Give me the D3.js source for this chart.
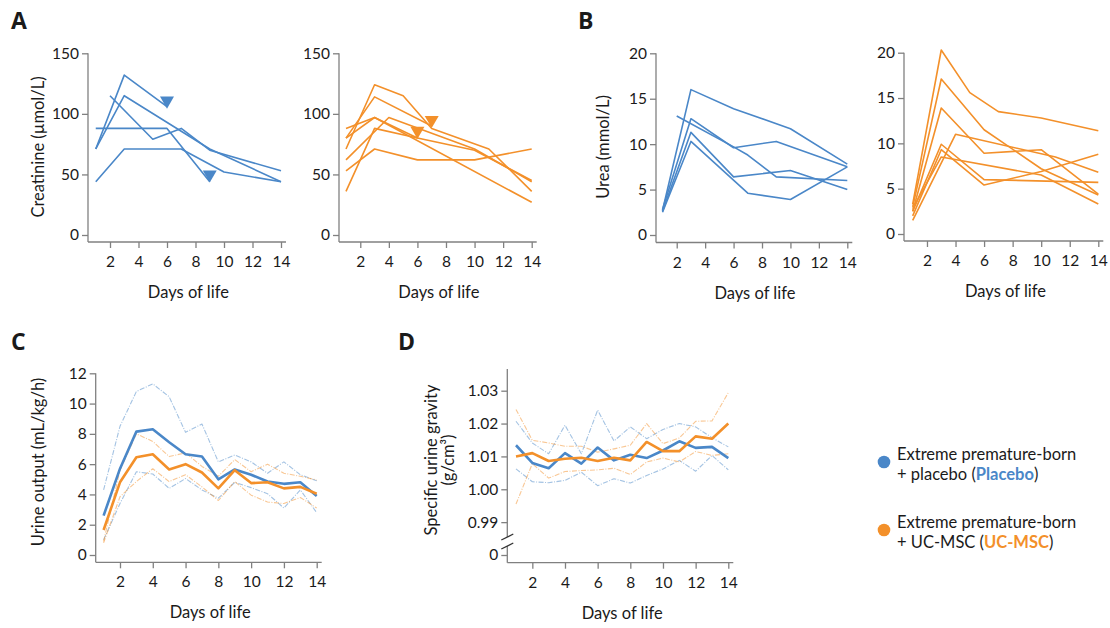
<!DOCTYPE html>
<html>
<head>
<meta charset="utf-8">
<script src="https://cdn.jsdelivr.net/npm/d3@7"></script>
<style>
  body { margin: 0; background: #fff; }
  text { font-family: Lato, "Open Sans", sans-serif; fill: #1a1a1a; }
</style>
</head>
<body>
<div id="chart"></div>
<script>
const BLUE = '#4a87c8';
const ORANGE = '#f3902a';
const AXIS = '#808080';

// Creatinine (µmol/L), one array per patient: [day, value]
const creatininePlacebo = [
    [[1, 71], [3, 132], [6, 106]],
    [[1, 71], [3, 115], [9, 71], [14, 44]],
    [[2, 115], [5, 79], [7, 88], [9, 70], [14, 53]],
    [[1, 88], [6, 88], [9, 44]],
    [[1, 44], [3, 71], [7, 71], [10, 52], [14, 44]]
];
const creatinineDeathsPlacebo = [[6, 111], [9, 50]];

const creatinineUC = [
    [[1, 71], [3, 124], [5, 115], [7, 88], [11, 71], [14, 36]],
    [[1, 80], [3, 114], [7, 90]],
    [[1, 88], [3, 97], [6, 80]],
    [[1, 62], [4, 97], [10, 71], [14, 44]],
    [[1, 36], [3, 88], [6, 80], [10, 70], [14, 45]],
    [[1, 53], [3, 71], [6, 62], [10, 62], [14, 71]],
    [[1, 80], [3, 97], [14, 27]]
];
const creatinineDeathsUC = [[6, 86], [7, 95]];

// Urea (mmol/L)
const ureaPlacebo = [
    [[1, 2.7], [3, 16], [6, 13.9], [10, 11.7], [14, 7.8]],
    [[2, 13.1], [6, 9.7], [7, 8.8], [9, 6.4], [14, 6.0]],
    [[1, 2.8], [3, 12.8], [6, 9.6], [9, 10.3], [14, 7.5]],
    [[1, 2.6], [3, 11.3], [6, 6.4], [10, 7.1], [14, 5.0]],
    [[1, 2.5], [3, 10.3], [7, 4.6], [10, 3.9], [14, 7.5]]
];
const ureaUC = [
    [[1, 3.3], [3, 20.3], [5, 15.6], [7, 13.5], [10, 12.8], [14, 11.4]],
    [[1, 3.0], [3, 17.1], [6, 11.5], [10, 7.2], [14, 4.3]],
    [[1, 2.5], [3, 13.9], [6, 8.9], [10, 9.3], [14, 4.4]],
    [[1, 1.5], [4, 11.0], [11, 8.5], [14, 6.8]],
    [[1, 2.5], [3, 9.9], [6, 6.0], [14, 5.7]],
    [[1, 2.0], [3, 9.3], [6, 5.4], [10, 6.9], [14, 8.8]],
    [[1, 2.8], [3, 8.5], [10, 6.5], [14, 3.3]]
];

// Urine output (mL/kg/h), days 1..14
const urineMeanPlacebo = [2.6, 5.7, 8.15, 8.3, 7.45, 6.65, 6.5, 5.0, 5.65, 5.3, 4.85, 4.7, 4.8, 3.9];
const urineHighPlacebo = [4.3, 8.5, 10.8, 11.3, 10.45, 8.1, 8.65, 6.15, 6.6, 6.15, 5.4, 6.15, 5.3, 4.9];
const urineLowPlacebo = [1.0, 3.4, 5.5, 5.35, 4.4, 5.05, 4.3, 3.75, 4.8, 4.45, 4.05, 3.1, 4.3, 2.8];
const urineMeanUC = [1.65, 4.8, 6.45, 6.65, 5.65, 6.0, 5.45, 4.4, 5.6, 4.75, 4.8, 4.4, 4.5, 4.05];
const urineHighUC = [0.9, 5.6, 8.0, 7.5, 6.5, 6.75, 5.85, 5.2, 6.3, 5.5, 6.0, 5.4, 5.2, 4.95];
const urineLowUC = [0.8, 3.85, 4.85, 5.7, 4.85, 5.3, 4.5, 3.6, 4.85, 3.95, 3.5, 3.4, 3.8, 3.1];

// Specific urine gravity (g/cm3), days 1..14
const gravityMeanPlacebo = [1.0134, 1.0080, 1.0064, 1.0110, 1.0078, 1.0127, 1.0088, 1.0105, 1.0095, 1.0118, 1.0146, 1.0126, 1.0129, 1.0095];
const gravityHighPlacebo = [1.0207, 1.0141, 1.0108, 1.0195, 1.0108, 1.0241, 1.0147, 1.0190, 1.0154, 1.0182, 1.0200, 1.0190, 1.0157, 1.0129];
const gravityLowPlacebo = [1.0062, 1.0023, 1.0020, 1.0027, 1.0052, 1.0011, 1.0032, 1.0019, 1.0042, 1.0062, 1.0088, 1.0055, 1.0103, 1.0059];
const gravityMeanUC = [1.0100, 1.0110, 1.0086, 1.0093, 1.0096, 1.0086, 1.0096, 1.0088, 1.0144, 1.0116, 1.0116, 1.0161, 1.0154, 1.0200];
const gravityHighUC = [1.0243, 1.0149, 1.0141, 1.0131, 1.0131, 1.0113, 1.0123, 1.0134, 1.0200, 1.0139, 1.0156, 1.0207, 1.0208, 1.0294];
const gravityLowUC = [0.9955, 1.0078, 1.0034, 1.0054, 1.0057, 1.0059, 1.0064, 1.0045, 1.0083, 1.0095, 1.0083, 1.0115, 1.0103, 1.0108];

const days = d3.range(1, 15);
const xTicks = [2, 4, 6, 8, 10, 12, 14];

const svg = d3.select('#chart')
    .append('svg')
    .attr('width', 1110)
    .attr('height', 628);

// Build one panel with its axes, returns scales
function makePanel(p) {
    const x = d3.scaleLinear().domain([1, 14]).range([p.d1, p.d14]);
    const y = d3.scaleLinear().domain(p.yDomain).range(p.yRange);
    const g = svg.append('g');

    const yAxis = d3.axisLeft(y)
        .tickValues(p.yTicks)
        .tickSize(6)
        .tickPadding(3)
        .tickFormat(p.yFormat || d3.format('d'));
    const ya = g.append('g')
        .attr('transform', `translate(${p.ax},0)`)
        .call(yAxis);

    const xAxis = d3.axisBottom(x)
        .tickValues(xTicks)
        .tickSize(6)
        .tickPadding(8);
    const xa = g.append('g')
        .attr('transform', `translate(0,${p.ay})`)
        .call(xAxis);

    [ya, xa].forEach(a => {
        a.select('.domain').remove();
        a.attr('font-family', null).attr('font-size', null);
        a.selectAll('line').attr('stroke', AXIS).attr('stroke-width', 1.3);
        a.selectAll('text').attr('font-size', 15.5).attr('fill', '#1a1a1a');
    });

    // axis lines
    if (p.breakAt) {
        g.append('line').attr('x1', p.ax).attr('x2', p.ax).attr('y1', p.axTop).attr('y2', p.breakAt[0])
            .attr('stroke', AXIS).attr('stroke-width', 1.3);
        g.append('line').attr('x1', p.ax).attr('x2', p.ax).attr('y1', p.breakAt[1]).attr('y2', p.ay)
            .attr('stroke', AXIS).attr('stroke-width', 1.3);
        p.breakAt.forEach(by => {
            g.append('line')
                .attr('x1', p.ax - 6).attr('y1', by + 3)
                .attr('x2', p.ax + 6).attr('y2', by - 3)
                .attr('stroke', '#333').attr('stroke-width', 1.3);
        });
    } else {
        g.append('line').attr('x1', p.ax).attr('x2', p.ax).attr('y1', p.axTop).attr('y2', p.ay)
            .attr('stroke', AXIS).attr('stroke-width', 1.3);
    }
    g.append('line').attr('x1', p.ax).attr('x2', p.d14 + 5).attr('y1', p.ay).attr('y2', p.ay)
        .attr('stroke', AXIS).attr('stroke-width', 1.3);

    g.append('text')
        .attr('x', (p.d1 + p.d14) / 2)
        .attr('y', p.ay + 56)
        .attr('text-anchor', 'middle')
        .attr('font-size', 16.5)
        .text('Days of life');

    if (p.yTitle) {
        const t = g.append('text')
            .attr('transform', `translate(${p.yTitleX},${p.yTitleY}) rotate(-90)`)
            .attr('text-anchor', 'middle')
            .attr('font-size', 16.5);
        p.yTitle.forEach((line, i) => {
            t.append('tspan')
                .attr('x', 0)
                .attr('dy', i === 0 ? 0 : 17)
                .text(line);
        });
    }
    return { x, y, g };
}

function drawPatients(panel, rows, color) {
    const line = d3.line().x(d => panel.x(d[0])).y(d => panel.y(d[1]));
    panel.g.selectAll(null)
        .data(rows)
        .enter()
        .append('path')
        .attr('d', line)
        .attr('fill', 'none')
        .attr('stroke', color)
        .attr('stroke-width', 1.6)
        .attr('stroke-linejoin', 'round');
}

function drawDeaths(panel, marks, color) {
    panel.g.selectAll(null)
        .data(marks)
        .enter()
        .append('path')
        .attr('d', d3.symbol(d3.symbolTriangle, 85))
        .attr('transform', d => `translate(${panel.x(d[0])},${panel.y(d[1])}) rotate(180)`)
        .attr('fill', color);
}

function drawSeries(panel, vals, color, thick) {
    const line = d3.line().x((d, i) => panel.x(days[i])).y(d => panel.y(d));
    const p = panel.g.append('path')
        .datum(vals)
        .attr('d', line)
        .attr('fill', 'none')
        .attr('stroke', color)
        .attr('stroke-linejoin', 'round');
    if (thick) {
        p.attr('stroke-width', 2.6);
    } else {
        p.attr('stroke-width', 1.1)
            .attr('stroke-opacity', 0.5)
            .attr('stroke-dasharray', '5,1.5,1,1.5');
    }
}

// Panel A
const aLeft = makePanel({
    ax: 88, axTop: 53.3, ay: 242, d1: 95.75, d14: 281,
    yDomain: [0, 150], yRange: [235, 53.3], yTicks: [0, 50, 100, 150],
    yTitle: ['Creatinine (\u00b5mol/L)'], yTitleX: 44, yTitleY: 147
});
drawPatients(aLeft, creatininePlacebo, BLUE);
drawDeaths(aLeft, creatinineDeathsPlacebo, BLUE);

const aRight = makePanel({
    ax: 339, axTop: 53.3, ay: 242, d1: 346, d14: 531.7,
    yDomain: [0, 150], yRange: [235, 53.3], yTicks: [0, 50, 100, 150]
});
drawPatients(aRight, creatinineUC, ORANGE);
drawDeaths(aRight, creatinineDeathsUC, ORANGE);

// Panel B
const bLeft = makePanel({
    ax: 656, axTop: 53.3, ay: 242.5, d1: 662.5, d14: 847.3,
    yDomain: [0, 20], yRange: [235, 53.3], yTicks: [0, 5, 10, 15, 20],
    yTitle: ['Urea (mmol/L)'], yTitleX: 609, yTitleY: 147
});
drawPatients(bLeft, ureaPlacebo, BLUE);

const bRight = makePanel({
    ax: 904, axTop: 52.7, ay: 241, d1: 912.7, d14: 1098.3,
    yDomain: [0, 20], yRange: [234, 52.7], yTicks: [0, 5, 10, 15, 20]
});
drawPatients(bRight, ureaUC, ORANGE);

// Panel C
const cPanel = makePanel({
    ax: 95.7, axTop: 373.3, ay: 562.3, d1: 103.6, d14: 316.7,
    yDomain: [0, 12], yRange: [555, 373.3], yTicks: [0, 2, 4, 6, 8, 10, 12],
    yTitle: ['Urine output (mL/kg/h)'], yTitleX: 44, yTitleY: 462
});
drawSeries(cPanel, urineHighPlacebo, BLUE, false);
drawSeries(cPanel, urineLowPlacebo, BLUE, false);
drawSeries(cPanel, urineHighUC, ORANGE, false);
drawSeries(cPanel, urineLowUC, ORANGE, false);
drawSeries(cPanel, urineMeanPlacebo, BLUE, true);
drawSeries(cPanel, urineMeanUC, ORANGE, true);

// Panel D (0 shown below an axis break)
const dPanel = makePanel({
    ax: 507.3, axTop: 369, ay: 562.7, d1: 516, d14: 728.3,
    yDomain: [0.98, 1.03], yRange: [555, 390.7],
    yTicks: [0.98, 0.99, 1.00, 1.01, 1.02, 1.03],
    yFormat: d => d < 0.985 ? '0' : d3.format('.2f')(d),
    breakAt: [537, 546],
    yTitle: ['Specific urine gravity', '(g/cm\u00b3)'], yTitleX: 437, yTitleY: 460
});
drawSeries(dPanel, gravityHighPlacebo, BLUE, false);
drawSeries(dPanel, gravityLowPlacebo, BLUE, false);
drawSeries(dPanel, gravityHighUC, ORANGE, false);
drawSeries(dPanel, gravityLowUC, ORANGE, false);
drawSeries(dPanel, gravityMeanPlacebo, BLUE, true);
drawSeries(dPanel, gravityMeanUC, ORANGE, true);

// Panel letters
const letters = [['A', 11, 29], ['B', 578, 29], ['C', 11, 350], ['D', 398, 350]];
svg.selectAll(null)
    .data(letters)
    .enter()
    .append('text')
    .attr('x', d => d[1])
    .attr('y', d => d[2])
    .attr('font-size', 23)
    .attr('font-weight', 'bold')
    .style('font-family', '"Open Sans", sans-serif')
    .text(d => d[0]);

// Legend
const legend = [
    { color: BLUE, y: 462, group: 'placebo', tag: 'Placebo' },
    { color: ORANGE, y: 530, group: 'UC-MSC', tag: 'UC-MSC' }
];
const lg = svg.append('g');
legend.forEach(l => {
    lg.append('circle').attr('cx', 884).attr('cy', l.y).attr('r', 6.3).attr('fill', l.color);
    lg.append('text').attr('x', 897).attr('y', l.y - 2).attr('font-size', 16.5)
        .text('Extreme premature-born');
    const t = lg.append('text').attr('x', 897).attr('y', l.y + 18).attr('font-size', 16.5);
    t.append('tspan').text('+ ' + l.group + ' (');
    t.append('tspan').attr('font-weight', 'bold').style('fill', l.color).text(l.tag);
    t.append('tspan').text(')');
});
</script>
</body>
</html>
